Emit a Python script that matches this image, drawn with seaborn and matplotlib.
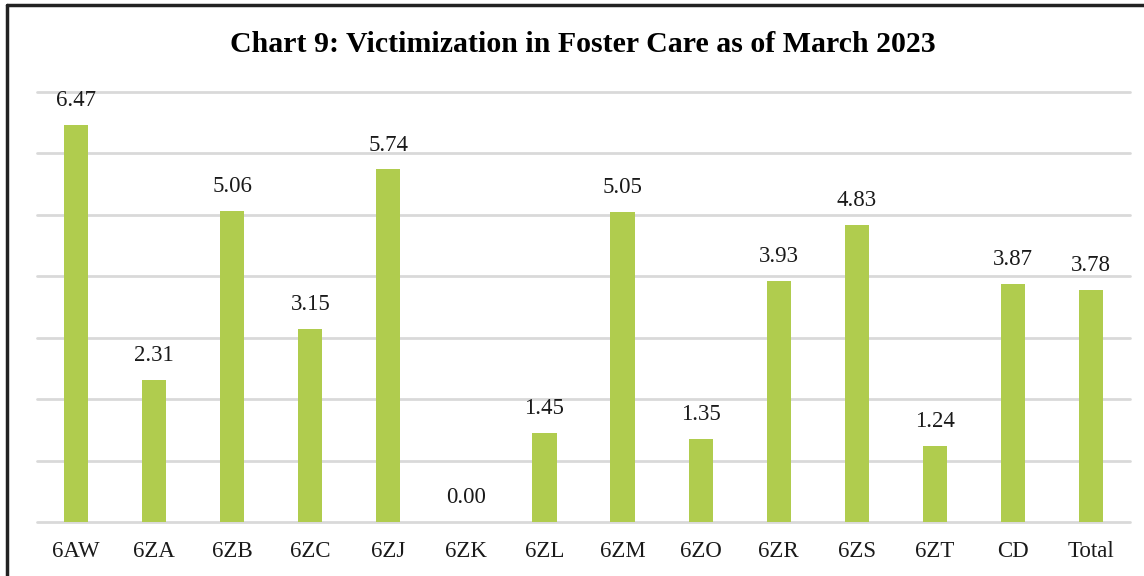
import matplotlib
matplotlib.use("Agg")
import matplotlib.pyplot as plt
import seaborn as sns
import pandas as pd

categories = ["6AW", "6ZA", "6ZB", "6ZC", "6ZJ", "6ZK", "6ZL", "6ZM", "6ZO", "6ZR", "6ZS", "6ZT", "CD", "Total"]
values = [6.47, 2.31, 5.06, 3.15, 5.74, 0.00, 1.45, 5.05, 1.35, 3.93, 4.83, 1.24, 3.87, 3.78]
title = "Chart 9: Victimization in Foster Care as of March 2023"

sns.set_theme(style="white")
plt.rcParams["font.family"] = ["Liberation Serif", "DejaVu Serif"]

df = pd.DataFrame({"cat": categories, "val": values})

fig = plt.figure(figsize=(11.44, 5.76), dpi=100)
ax = fig.add_axes([37/1144, 1 - 522/576, (1130 - 37)/1144, (522 - 92)/576])
sns.barplot(data=df, x="cat", y="val", color="#B0CC4E", saturation=1, width=0.31,
            linewidth=0, edgecolor="none", ax=ax)

ax.set_ylim(0, 7)
ax.set_yticks(range(0, 8))
ax.yaxis.grid(True, color="#D9D9D9", linewidth=2)
for gl in ax.get_ygridlines():
    gl.set_clip_on(False)
ax.set_axisbelow(True)
ax.set_yticklabels([])
ax.tick_params(axis="y", length=0)
ax.tick_params(axis="x", length=0, labelsize=16.5, pad=14, colors="#1a1a1a")
ax.set_xlabel("")
ax.set_ylabel("")
for s in ax.spines.values():
    s.set_visible(False)

for i, v in enumerate(values):
    ax.annotate(f"{v:.2f}", (i, v), xytext=(0, 10), textcoords="offset points",
                ha="center", va="bottom", fontsize=16.5, color="#1a1a1a")

fig.text(583/1144, 1 - 45/576, title, ha="center", va="center", fontsize=21.5, fontweight="bold", color="black")

# frame
fig.add_artist(plt.Line2D([7/1144, 7/1144], [0, 1 - 5/576], transform=fig.transFigure, color="#222222", linewidth=2.5))
fig.add_artist(plt.Line2D([7/1144, 1], [1 - 5/576, 1 - 5/576], transform=fig.transFigure, color="#222222", linewidth=2.5))

fig.savefig("out.png", dpi=100)
